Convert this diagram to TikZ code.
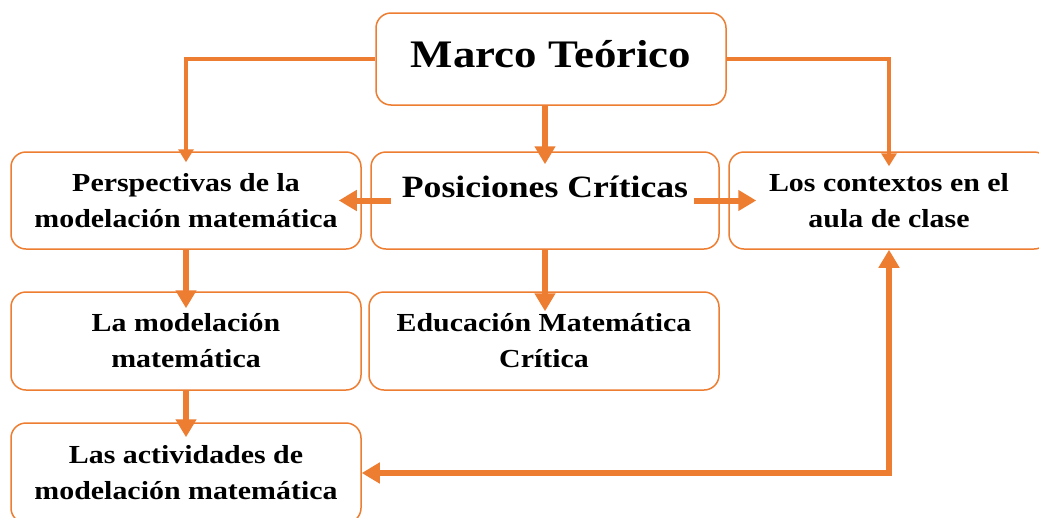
\documentclass[tikz,border=0pt]{standalone}
\usepackage{fontspec}
\setmainfont{Liberation Serif}[FakeStretch=1.15]
\usepackage{tikz}
\usetikzlibrary{arrows.meta}

\definecolor{naranja}{RGB}{237,125,49}

\tikzset{
	caja/.style={draw=naranja, line width=1.5pt, rounded corners=15pt, fill=white,
		align=center, minimum width=350pt, minimum height=97pt,
		font=\fontsize{26}{36}\selectfont\bfseries},
	flecha/.style={draw=naranja, line width=6pt, -{Triangle[length=18pt,width=20pt]}},
	flechafina/.style={draw=naranja, line width=4.5pt, -{Triangle[length=13pt,width=15pt]}},
}

\begin{document}
\begin{tikzpicture}[x=1pt, y=-1pt]
		%%%%% START %%%%%
		\clip (0, 0) rectangle (1039, 517);
		\fill[white] (0, 0) rectangle (1039, 517);
		
		% cajas
		\node[caja, minimum height=92pt, text height=30pt, text depth=14pt,
			font=\fontsize{39}{44}\selectfont\bfseries] (marco) at (551, 59) {Marco Teórico};
		
		\node[caja] (persp) at (186, 200.5) {Perspectivas de la\\modelación matemática};
		\node[caja, minimum width=348pt, text height=22pt, text depth=29pt,
			font=\fontsize{31}{36}\selectfont\bfseries] (pos) at (545, 200.5) {Posiciones Críticas};
		\node[caja, minimum width=320pt] (ctx) at (889, 200.5) {Los contextos en el\\aula de clase};
		
		\node[caja, minimum height=98pt] (model) at (186, 341) {La modelación\\matemática};
		\node[caja, minimum height=98pt] (edu) at (544, 341) {Educación Matemática\\Crítica};
		
		\node[caja, minimum height=100pt] (act) at (186, 473) {Las actividades de\\modelación matemática};
		
		% flechas
		\draw[flechafina, shorten >=-11pt] (marco.west) -| (persp.north);
		\draw[flechafina, shorten >=-15pt] (marco.east) -| (ctx.north);
		\draw[flecha, shorten >=-13pt] (marco.south -| pos.north) -- (pos.north);
		
		\draw[flecha, shorten <=-21pt, shorten >=-23pt] (pos.west) -- (persp.east);
		\draw[flecha, shorten <=-26pt, shorten >=-28pt] (pos.east) -- (ctx.west);
		
		\draw[flecha, shorten >=-17pt] (persp.south) -- (model.north);
		\draw[flecha, shorten >=-20pt] (pos.south) -- (pos.south |- edu.north);
		\draw[flecha, shorten >=-15pt] (model.south) -- (act.north);
		
		\draw[flecha, {Triangle[length=18pt,width=20pt]}-{Triangle[length=18pt,width=20pt]}]
			(ctx.south) |- (act.east);
		%%%%% END %%%%%
\end{tikzpicture}
\end{document}
